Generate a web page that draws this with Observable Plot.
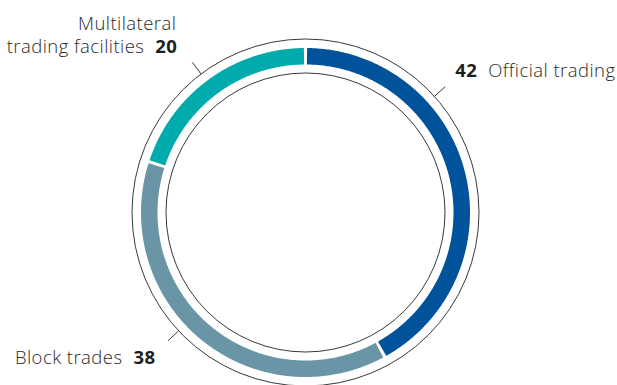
<!DOCTYPE html>
<html><head><meta charset="utf-8">
<script src="https://cdn.jsdelivr.net/npm/d3@7"></script>
<script src="https://cdn.jsdelivr.net/npm/@observablehq/plot@0.6"></script>
<style>body{margin:0;background:#fff}</style>
</head><body><div id="chart"></div>
<script>
// ---- data ----
const categories = ["Official trading", "Block trades", "Multilateral trading facilities"];
const shares = [42, 38, 20];
const labelLines = [["Official trading"], ["Block trades"], ["Multilateral", "trading facilities"]];
const colors = ["#00539b", "#6995a7", "#00abad"];

// ---- layout ----
const W = 617, H = 385, cx = 305, cy = 212;
const rOuter = 173.5, rInner = 139.5, rRing = 156.25, ringWidth = 16.5, gapPx = 3;
const tickAngles = [48, 227, 323], tickR0 = 173.5, tickR1 = 188;
const labelLayout = [
  {side: "right", dx: 10, dy: -10},
  {side: "left", dx: -12.5, dy: 23},
  {side: "left", dx: -15, dy: -9}
];
const numGap = 33, lineH = 23.5;
const font = "'Open Sans', 'Liberation Sans', sans-serif";

const pt = (r, deg) => ({x: r * Math.sin(deg * Math.PI / 180), y: -r * Math.cos(deg * Math.PI / 180)});
const total = d3.sum(shares);
let cum = 0;
const arcPts = [];
categories.forEach((c, i) => {
  const a0 = cum / total * 360, a1 = (cum + shares[i]) / total * 360;
  cum += shares[i];
  const half = gapPx / 2 / rRing * 180 / Math.PI;
  const s = a0 + half, e = a1 - half, n = Math.ceil((e - s) / 0.5);
  for (let k = 0; k <= n; k++) {
    const a = s + (e - s) * k / n;
    arcPts.push({...pt(rRing, a), cat: c});
  }
});
const ticks = categories.map((c, i) => {
  const p0 = pt(tickR0, tickAngles[i]), p1 = pt(tickR1, tickAngles[i]);
  return {x1: p0.x, y1: p0.y, x2: p1.x, y2: p1.y, cat: c};
});

const rows = [];
categories.forEach((c, i) => {
  const L = labelLayout[i], t = ticks[i];
  const bx = t.x2 + L.dx, by = t.y2 + L.dy;
  const lines = labelLines[i];
  if (L.side === "right") {
    rows.push({x: bx, y: by, text: String(shares[i]), anchor: "start", bold: true});
    rows.push({x: bx + numGap, y: by, text: lines[lines.length - 1], anchor: "start", bold: false});
  } else {
    rows.push({x: bx, y: by, text: String(shares[i]), anchor: "end", bold: true});
    rows.push({x: bx - numGap, y: by, text: lines[lines.length - 1], anchor: "end", bold: false});
    for (let k = 0; k < lines.length - 1; k++) {
      rows.push({x: bx - 1, y: by - lineH * (lines.length - 1 - k), text: lines[k], anchor: "end", bold: false});
    }
  }
});

const textMark = (anchor, bold) => Plot.text(rows.filter(r => r.anchor === anchor && r.bold === bold), {
  x: "x", y: "y", text: "text", textAnchor: anchor, lineAnchor: "bottom",
  fontSize: 18.5, fontFamily: font, fontWeight: bold ? 700 : 300, fill: bold ? "#1e1e1e" : "#2a2a2a"
});

const chart = Plot.plot({
  width: W, height: H,
  marginTop: 0, marginRight: 0, marginBottom: 0, marginLeft: 0,
  x: {domain: [-cx, W - cx], axis: null},
  y: {domain: [H - cy, -cy], axis: null},
  color: {domain: categories, range: colors},
  style: {fontFamily: font, background: "#fff", letterSpacing: "0.45px"},
  marks: [
    Plot.dot([{x: 0, y: 0}], {x: "x", y: "y", r: rOuter, fill: "none", stroke: "#222", strokeWidth: 0.9}),
    Plot.dot([{x: 0, y: 0}], {x: "x", y: "y", r: rInner, fill: "none", stroke: "#222", strokeWidth: 0.9}),
    Plot.line(arcPts, {x: "x", y: "y", z: "cat", stroke: "cat", strokeWidth: ringWidth, strokeLinecap: "butt", strokeLinejoin: "round"}),
    Plot.link(ticks, {x1: "x1", y1: "y1", x2: "x2", y2: "y2", stroke: "#222", strokeWidth: 0.9}),
    textMark("start", true), textMark("start", false), textMark("end", true), textMark("end", false)
  ]
});
document.getElementById("chart").appendChild(chart);
</script>
</body></html>
